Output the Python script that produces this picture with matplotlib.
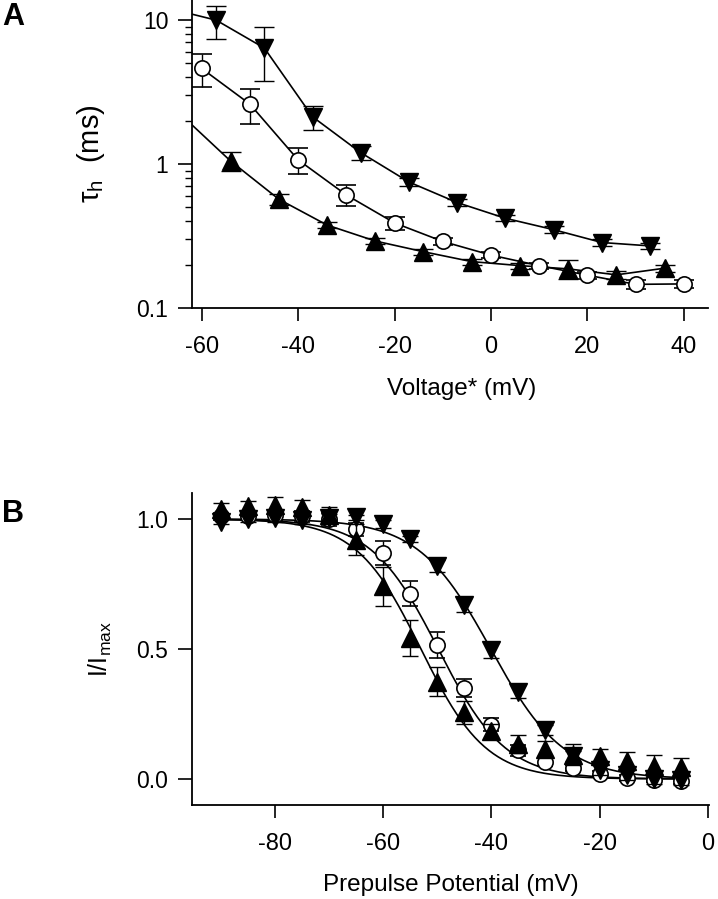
import matplotlib
matplotlib.use("Agg")
import matplotlib.pyplot as plt
import numpy as np

plt.rcParams['font.family'] = ['Liberation Sans', 'DejaVu Sans']
plt.rcParams['mathtext.fontset'] = 'custom'
plt.rcParams['mathtext.rm'] = 'Liberation Sans'
plt.rcParams['mathtext.it'] = 'Liberation Sans'
plt.rcParams['axes.unicode_minus'] = False

# ---- panel A: tau_h vs voltage ----
va_down = [-57, -47, -37, -27, -17, -7, 3, 13, 23, 33]
tau_down = [10.0, 6.4, 2.13, 1.2, 0.75, 0.54, 0.42, 0.35, 0.285, 0.27]
err_down = [2.6, 2.6, 0.4, 0.13, 0.05, 0.03, 0.02, 0.02, 0.015, 0.015]

va_circ = [-60, -50, -40, -30, -20, -10, 0, 10, 20, 30, 40]
tau_circ = [4.62, 2.61, 1.07, 0.61, 0.39, 0.29, 0.233, 0.197, 0.169, 0.146, 0.147]
err_circ = [1.2, 0.72, 0.22, 0.1, 0.04, 0.015, 0.01, 0.01, 0.01, 0.01, 0.01]

va_up = [-54, -44, -34, -24, -14, -4, 6, 16, 26, 36]
tau_up = [1.05, 0.57, 0.377, 0.292, 0.246, 0.21, 0.197, 0.187, 0.17, 0.189]
err_up = [0.16, 0.05, 0.02, 0.015, 0.012, 0.01, 0.01, 0.027, 0.01, 0.01]

# fitted curves start at the left axis edge
fit_start_v = -62
down_fit_start = 11.0
up_fit_start = 1.87

# ---- panel B: steady-state inactivation ----
vb = [-90, -85, -80, -75, -70, -65, -60, -55, -50, -45, -40, -35, -30, -25, -20, -15, -10, -5]
down_b = [0.99, 1.0, 1.005, 0.995, 1.005, 1.006, 0.981, 0.923, 0.819, 0.668, 0.495, 0.336, 0.189, 0.088, 0.035, 0.016, 0.0, -0.005]
circ_b = [1.01, 1.01, 1.015, 1.01, 1.0, 0.96, 0.87, 0.713, 0.515, 0.349, 0.208, 0.11, 0.064, 0.042, 0.02, 0.004, -0.003, -0.009]
up_b = [1.04, 1.05, 1.055, 1.045, 1.015, 0.92, 0.742, 0.543, 0.374, 0.256, 0.183, 0.134, 0.117, 0.093, 0.087, 0.068, 0.05, 0.045]
err_down_b = [0.01, 0.01, 0.015, 0.015, 0.015, 0.01, 0.015, 0.012, 0.023, 0.027, 0.03, 0.025, 0.02, 0.02, 0.02, 0.02, 0.02, 0.02]
err_circ_b = [0.015, 0.015, 0.02, 0.02, 0.025, 0.025, 0.045, 0.047, 0.05, 0.035, 0.025, 0.02, 0.015, 0.012, 0.01, 0.01, 0.01, 0.01]
err_up_b = [0.02, 0.02, 0.03, 0.03, 0.03, 0.06, 0.075, 0.07, 0.055, 0.045, 0.03, 0.036, 0.03, 0.04, 0.028, 0.034, 0.043, 0.035]

# Boltzmann fit parameters (V1/2, slope) for down, circle, up
fit_vhalf = [-40.1, -49.8, -53.0]
fit_slope = [6.7, 6.2, 6.0]

fig = plt.figure(figsize=(7.18, 8.99), dpi=100)
axA = fig.add_axes([0.2674, 0.6574, 0.7187, 0.3426])
axB = fig.add_axes([0.2674, 0.1046, 0.7200, 0.3470])

lw = 1.2
ms_tri = 12.5
ms_circ = 11


def style(ax):
    for s in ['top', 'right']:
        ax.spines[s].set_visible(False)
    for s in ['left', 'bottom']:
        ax.spines[s].set_linewidth(1.3)
    ax.tick_params(which='major', direction='out', length=10, width=1.2, labelsize=16.5, pad=7)
    ax.tick_params(which='minor', direction='out', length=5, width=1.0)
    ax.tick_params(axis='x', which='major', length=9, pad=11, labelsize=17)


# panel A
axA.set_yscale('log')
axA.plot([fit_start_v] + va_down, [down_fit_start] + tau_down, color='black', lw=lw, zorder=1)
axA.plot(va_circ, tau_circ, color='black', lw=lw, zorder=1)
axA.plot([fit_start_v] + va_up, [up_fit_start] + tau_up, color='black', lw=lw, zorder=1)
axA.errorbar(va_down, tau_down, yerr=err_down, fmt='v', ms=ms_tri, mfc='black', mec='black',
             ecolor='black', elinewidth=1.0, capsize=7, capthick=1.0, zorder=3)
axA.errorbar(va_circ, tau_circ, yerr=err_circ, fmt='o', ms=ms_circ, mfc='white', mec='black', mew=1.2,
             ecolor='black', elinewidth=1.0, capsize=7, capthick=1.0, zorder=3)
axA.errorbar(va_up, tau_up, yerr=err_up, fmt='^', ms=ms_tri, mfc='black', mec='black',
             ecolor='black', elinewidth=1.0, capsize=7, capthick=1.0, zorder=3)
axA.set_xlim(-62, 45)
axA.set_ylim(0.1, 13.8)
axA.set_xticks([-60, -40, -20, 0, 20, 40])
axA.set_yticks([0.1, 1, 10])
axA.set_yticklabels(['0.1', '1', '10'])
axA.yaxis.set_minor_locator(matplotlib.ticker.LogLocator(base=10, subs=np.arange(2, 10)))
axA.yaxis.set_minor_formatter(matplotlib.ticker.NullFormatter())
style(axA)
axA.set_xlabel('Voltage* (mV)', fontsize=17.5, va='center')
axA.xaxis.set_label_coords(0.523, -0.263)
axA.set_ylabel(r'τ$_\mathrm{h}$  (ms)', fontsize=21, va='center')
axA.yaxis.set_label_coords(-0.195, 0.5)

# panel B
vfit = np.linspace(vb[0], vb[-1], 200)
for vh, k in zip(fit_vhalf, fit_slope):
    axB.plot(vfit, 1.0 / (1.0 + np.exp((vfit - vh) / k)), color='black', lw=lw, zorder=1)
axB.errorbar(vb, circ_b, yerr=err_circ_b, fmt='o', ms=ms_circ, mfc='white', mec='black', mew=1.2,
             ecolor='black', elinewidth=1.0, capsize=5.5, capthick=1.0, zorder=3)
axB.errorbar(vb, down_b, yerr=err_down_b, fmt='v', ms=ms_tri, mfc='black', mec='black',
             ecolor='black', elinewidth=1.0, capsize=5.5, capthick=1.0, zorder=4)
axB.errorbar(vb, up_b, yerr=err_up_b, fmt='^', ms=ms_tri, mfc='black', mec='black',
             ecolor='black', elinewidth=1.0, capsize=5.5, capthick=1.0, zorder=4)
axB.set_xlim(-95.3, 0.2)
axB.set_ylim(-0.1, 1.1)
axB.set_xticks([-80, -60, -40, -20, 0])
axB.set_yticks([0.0, 0.5, 1.0])
axB.set_yticklabels(['0.0', '0.5', '1.0'])
style(axB)
axB.set_xlabel('Prepulse Potential (mV)', fontsize=17.5, va='center')
axB.xaxis.set_label_coords(0.5, -0.256)
axB.set_ylabel(r'I/I$_\mathrm{max}$', fontsize=18, va='center')
axB.yaxis.set_label_coords(-0.178, 0.5)

fig.text(0.003, 1 - 17 / 899, 'A', fontsize=22, fontweight='bold', va='center', ha='left')
fig.text(0.003, 1 - 514 / 899, 'B', fontsize=22, fontweight='bold', va='center', ha='left')

fig.savefig('out.png', dpi=100)
